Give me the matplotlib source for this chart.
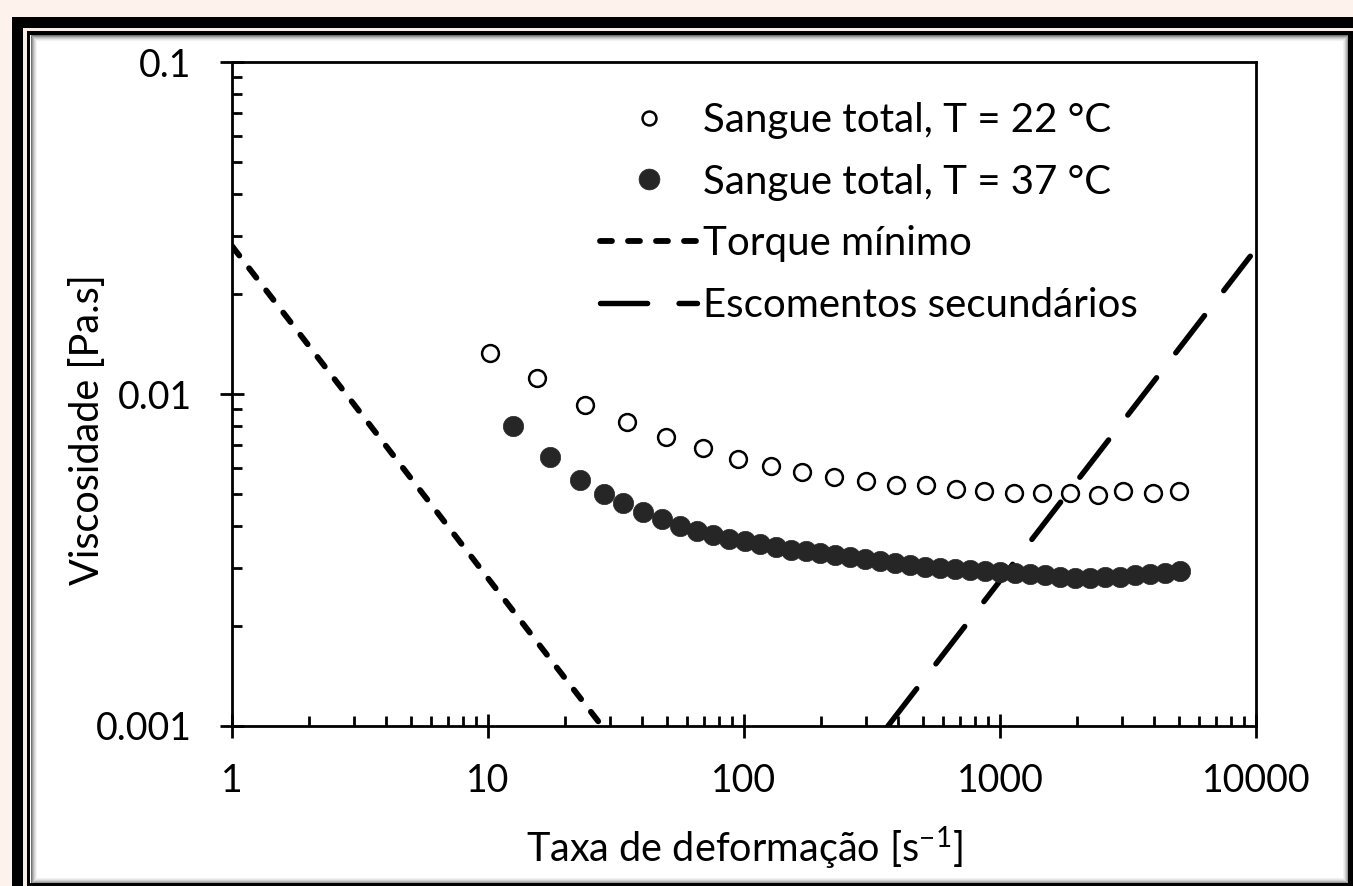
import matplotlib
matplotlib.use('Agg')
import matplotlib.pyplot as plt
from matplotlib.patches import Rectangle
from matplotlib.ticker import LogLocator, NullFormatter

plt.rcParams['font.family'] = ['Lato', 'DejaVu Sans']
plt.rcParams['mathtext.fontset'] = 'custom'
plt.rcParams['mathtext.rm'] = 'Lato'
plt.rcParams['mathtext.it'] = 'Lato:italic'
plt.rcParams['mathtext.bf'] = 'Lato:bold'

# ---------------- data ----------------
x_22 = [10.2, 15.6, 23.9, 35.0, 49.6, 69.0, 94.5, 127, 169, 225, 300, 392,
        514, 673, 866, 1135, 1459, 1877, 2414, 3020, 3960, 5003]
y_22 = [0.01328, 0.01114, 0.00927, 0.00822, 0.00743, 0.00686, 0.00635, 0.00607,
        0.00583, 0.00563, 0.00548, 0.00533, 0.00531, 0.00516, 0.00509, 0.00505,
        0.00505, 0.00505, 0.00498, 0.00512, 0.00505, 0.00509]

x_37 = [12.5, 17.5, 22.9, 28.5, 33.8, 40.2, 47.8, 56.2, 65.7, 75.9, 87.6, 100.9,
        115.5, 133.4, 152.2, 174.7, 198.2, 226.7, 259.5, 297.0, 339.8, 388.9,
        445.0, 509.3, 582.9, 667.1, 763.4, 873.7, 1000, 1144.5, 1309.9, 1499,
        1716, 1963, 2247, 2572, 2943, 3368, 3855, 4412, 5049]
y_37 = [0.00801, 0.00648, 0.00551, 0.00500, 0.00471, 0.00441, 0.00420, 0.00400,
        0.00386, 0.00377, 0.00367, 0.00360, 0.00353, 0.00347, 0.00340, 0.00337,
        0.00331, 0.00327, 0.00322, 0.00318, 0.00313, 0.00309, 0.00305, 0.00301,
        0.00299, 0.00297, 0.00295, 0.00292, 0.00290, 0.00288, 0.00286, 0.00284,
        0.00282, 0.00280, 0.00280, 0.00281, 0.00282, 0.00284, 0.00286, 0.00289,
        0.00292]

x_torque = [1, 29]
y_torque = [0.0279, 0.00096]

x_sec = [365, 9500]
y_sec = [0.001, 0.026]

x_ticks = [1, 10, 100, 1000, 10000]
x_ticklabels = ['1', '10', '100', '1000', '10000']
y_ticks = [0.001, 0.01, 0.1]
y_ticklabels = ['0.001', '0.01', '0.1']

labels = ['Sangue total, T = 22 °C', 'Sangue total, T = 37 °C',
          'Torque mínimo', 'Escomentos secundários']
xlabel = 'Taxa de deformação [s$^{-1}$]'
ylabel = 'Viscosidade [Pa.s]'

# ---------------- figure & frame ----------------
W, H = 1353, 886
fig = plt.figure(figsize=(W / 100, H / 100), dpi=100)
fig.patch.set_facecolor('#fdf3ec')


def box(x0, y0, x1, y1, **kw):
    r = Rectangle((x0 / W, 1 - y1 / H), (x1 - x0) / W, (y1 - y0) / H,
                  transform=fig.transFigure, zorder=-10, **kw)
    fig.add_artist(r)
    return r


box(12, 17, 1400, 950, facecolor='black', edgecolor='none')
box(23, 28, 1400, 950, facecolor='#f8eee8', edgecolor='none')
box(27, 31, 1400, 950, facecolor='black', edgecolor='none')
box(30.5, 34.5, 1348, 883, facecolor='white', edgecolor='none')
for i, a in enumerate([0.55, 0.4, 0.28, 0.18, 0.1, 0.05]):
    box(30.5 + i + 0.5, 34.5 + i + 0.5, 1348 - i - 0.5, 883 - i - 0.5,
        facecolor='none', edgecolor=(0, 0, 0, a), linewidth=0.72)

# ---------------- axes ----------------
ax = fig.add_axes([232 / W, 1 - 726 / H, 1024 / W, 664 / H])
ax.set_facecolor('white')

h_t, = ax.plot(x_torque, y_torque, color='black', lw=4.2, ls=(0, (2.05, 2.75)),
               dash_capstyle='round', zorder=2)
h_s, = ax.plot(x_sec, y_sec, color='black', lw=3.9, ls=(0, (8.7, 5.8)),
               dash_capstyle='round', zorder=2)
h22, = ax.plot(x_22, y_22, ls='none', marker='o', ms=12.1, mfc='white',
               mec='black', mew=1.8, zorder=4)
h37, = ax.plot(x_37, y_37, ls='none', marker='o', ms=14.6, mfc='#262626',
               mec='#262626', mew=0.5, zorder=4)

ax.set_xscale('log')
ax.set_yscale('log')
ax.set_xlim(1, 10000)
ax.set_ylim(0.001, 0.1)
ax.set_xticks(x_ticks, x_ticklabels)
ax.set_yticks(y_ticks, y_ticklabels)
ax.xaxis.set_minor_locator(LogLocator(base=10, subs=range(2, 10)))
ax.yaxis.set_minor_locator(LogLocator(base=10, subs=range(2, 10)))
ax.xaxis.set_minor_formatter(NullFormatter())
ax.yaxis.set_minor_formatter(NullFormatter())

for s in ax.spines.values():
    s.set_linewidth(2.0)
    s.set_color('black')

ax.tick_params(which='major', direction='inout', length=17, width=2.0,
               labelsize=27, colors='black', top=False, right=False)
ax.tick_params(axis='x', which='major', pad=18.5)
ax.tick_params(axis='y', which='major', pad=20.5)
ax.tick_params(which='minor', direction='in', length=7.5, width=2.0,
               top=False, right=False)

ax.set_xlabel(xlabel, fontsize=28.5, color='black')
ax.set_ylabel(ylabel, fontsize=28.5, color='black')
ax.xaxis.label.set_verticalalignment('center')
ax.yaxis.label.set_verticalalignment('center')
ax.xaxis.set_label_coords((744 - 232) / 1024, (726 - 848) / 664)
ax.yaxis.set_label_coords((88 - 232) / 1024, (726 - 430) / 664)

leg = ax.legend([h22, h37, h_t, h_s], labels, loc='upper left',
                bbox_to_anchor=((600 - 232) / 1024, (726 - 102) / 664),
                frameon=False, borderpad=0, borderaxespad=0, numpoints=1,
                handlelength=2.41, handletextpad=0.15, labelspacing=0.61,
                fontsize=29)
leg.legend_handles[0].set_markersize(10)
leg.legend_handles[1].set_markersize(15)

fig.savefig('out.png', dpi=100, facecolor=fig.get_facecolor())
